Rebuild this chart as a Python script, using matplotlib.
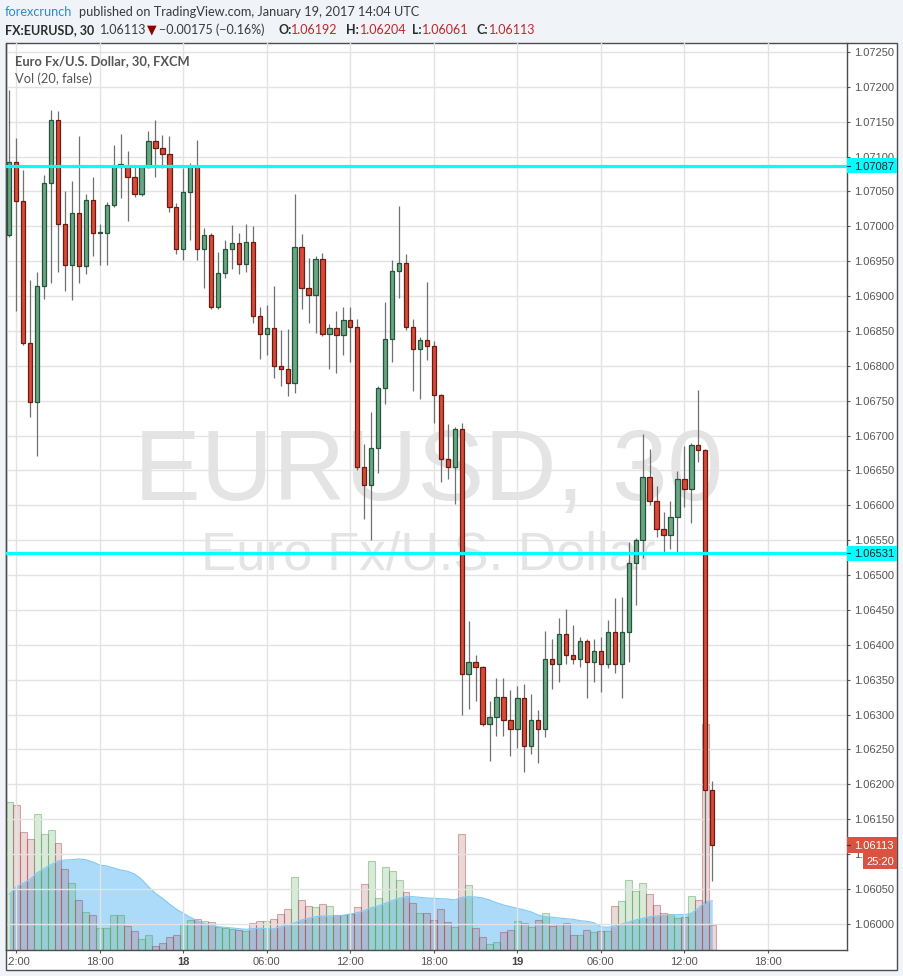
import numpy as np
import pandas as pd
import matplotlib
matplotlib.use('Agg')
import matplotlib.pyplot as plt
from matplotlib.patches import Rectangle
from matplotlib.colors import to_rgba
from matplotlib.ticker import FormatStrFormatter
from matplotlib.transforms import Bbox, TransformedBbox, blended_transform_factory

plt.rcParams['font.family'] = ['Liberation Sans', 'DejaVu Sans']

## EURUSD, 30 min candles (FXCM), first candle 17 Jan 2017 11:30 UTC
start = '2017-01-17 11:30'

open_ = [1.06988, 1.07092, 1.07036, 1.06832, 1.06748, 1.06914, 1.07062, 1.07152, 1.07003, 1.06944,
         1.07019, 1.06943, 1.07037, 1.06991, 1.06991, 1.07030, 1.07085, 1.07087, 1.07070, 1.07046,
         1.07085, 1.07123, 1.07112, 1.07103, 1.07027, 1.06968, 1.07049, 1.07087, 1.06968, 1.06988,
         1.06884, 1.06933, 1.06967, 1.06976, 1.06946, 1.06977, 1.06872, 1.06845, 1.06854, 1.06799,
         1.06796, 1.06776, 1.06970, 1.06911, 1.06901, 1.06953, 1.06845, 1.06854, 1.06844, 1.06865,
         1.06855, 1.06655, 1.06629, 1.06682, 1.06768, 1.06839, 1.06936, 1.06948, 1.06855, 1.06824,
         1.06837, 1.06828, 1.06758, 1.06666, 1.06655, 1.06709, 1.06358, 1.06376, 1.06368, 1.06286,
         1.06296, 1.06325, 1.06292, 1.06279, 1.06323, 1.06255, 1.06292, 1.06279, 1.06379, 1.06373,
         1.06416, 1.06385, 1.06379, 1.06405, 1.06375, 1.06391, 1.06372, 1.06419, 1.06372, 1.06418,
         1.06517, 1.06550, 1.06640, 1.06606, 1.06566, 1.06557, 1.06583, 1.06637, 1.06623, 1.06687,
         1.06679, 1.06192]

high_ = [1.07195, 1.07126, 1.07081, 1.06923, 1.06934, 1.07074, 1.07167, 1.07165, 1.07051, 1.07065,
         1.07129, 1.07046, 1.07071, 1.07003, 1.07035, 1.07117, 1.07132, 1.07108, 1.07085, 1.07088,
         1.07137, 1.07152, 1.07131, 1.07129, 1.07033, 1.07084, 1.07091, 1.07124, 1.06998, 1.06990,
         1.06963, 1.06980, 1.07002, 1.06990, 1.07003, 1.07000, 1.06884, 1.06887, 1.06914, 1.06851,
         1.06853, 1.07046, 1.06989, 1.06955, 1.06958, 1.06961, 1.06860, 1.06879, 1.06884, 1.06884,
         1.06867, 1.06688, 1.06734, 1.06771, 1.06891, 1.06951, 1.07029, 1.06960, 1.06867, 1.06841,
         1.06920, 1.06835, 1.06760, 1.06717, 1.06712, 1.06718, 1.06434, 1.06386, 1.06370, 1.06319,
         1.06352, 1.06352, 1.06335, 1.06341, 1.06344, 1.06329, 1.06307, 1.06420, 1.06408, 1.06438,
         1.06452, 1.06428, 1.06411, 1.06408, 1.06408, 1.06411, 1.06436, 1.06467, 1.06468, 1.06547,
         1.06553, 1.06702, 1.06680, 1.06627, 1.06591, 1.06606, 1.06649, 1.06685, 1.06689, 1.06765,
         1.06680, 1.06204]

low_ = [1.06985, 1.06879, 1.06830, 1.06727, 1.06671, 1.06896, 1.06918, 1.06935, 1.06907, 1.06894,
        1.06918, 1.06932, 1.06958, 1.06945, 1.06944, 1.07028, 1.07041, 1.07007, 1.07042, 1.07044,
        1.07083, 1.07071, 1.07083, 1.07021, 1.06960, 1.06951, 1.06981, 1.06951, 1.06912, 1.06882,
        1.06882, 1.06926, 1.06939, 1.06931, 1.06935, 1.06862, 1.06810, 1.06815, 1.06783, 1.06771,
        1.06756, 1.06761, 1.06882, 1.06862, 1.06847, 1.06843, 1.06796, 1.06790, 1.06816, 1.06806,
        1.06650, 1.06581, 1.06550, 1.06647, 1.06745, 1.06806, 1.06897, 1.06851, 1.06764, 1.06753,
        1.06809, 1.06718, 1.06634, 1.06637, 1.06602, 1.06300, 1.06308, 1.06320, 1.06284, 1.06234,
        1.06269, 1.06269, 1.06241, 1.06252, 1.06218, 1.06244, 1.06230, 1.06268, 1.06336, 1.06346,
        1.06373, 1.06373, 1.06368, 1.06323, 1.06347, 1.06332, 1.06366, 1.06359, 1.06323, 1.06376,
        1.06457, 1.06524, 1.06600, 1.06555, 1.06533, 1.06538, 1.06533, 1.06598, 1.06574, 1.06662,
        1.06030, 1.06061]

close_ = [1.07092, 1.07036, 1.06832, 1.06748, 1.06914, 1.07062, 1.07152, 1.07003, 1.06944, 1.07019,
          1.06943, 1.07037, 1.06991, 1.06991, 1.07030, 1.07087, 1.07090, 1.07070, 1.07046, 1.07085,
          1.07123, 1.07112, 1.07103, 1.07027, 1.06968, 1.07049, 1.07087, 1.06968, 1.06988, 1.06884,
          1.06933, 1.06967, 1.06976, 1.06946, 1.06977, 1.06872, 1.06845, 1.06854, 1.06799, 1.06796,
          1.06776, 1.06970, 1.06911, 1.06901, 1.06953, 1.06845, 1.06854, 1.06844, 1.06865, 1.06855,
          1.06655, 1.06629, 1.06682, 1.06768, 1.06839, 1.06936, 1.06948, 1.06855, 1.06824, 1.06837,
          1.06828, 1.06758, 1.06666, 1.06655, 1.06709, 1.06358, 1.06376, 1.06368, 1.06286, 1.06296,
          1.06325, 1.06292, 1.06279, 1.06323, 1.06255, 1.06292, 1.06279, 1.06379, 1.06373, 1.06416,
          1.06385, 1.06379, 1.06405, 1.06375, 1.06391, 1.06372, 1.06419, 1.06372, 1.06418, 1.06517,
          1.06550, 1.06640, 1.06606, 1.06566, 1.06557, 1.06583, 1.06637, 1.06623, 1.06687, 1.06679,
          1.06192, 1.06113]

volume = [148, 145, 118, 111, 136, 116, 120, 107, 81, 67,
          50, 38, 35, 22, 22, 35, 35, 24, 19, 11,
          15, 4, 7, 13, 15, 26, 30, 31, 29, 28,
          23, 22, 21, 20, 19, 27, 29, 29, 31, 36,
          41, 73, 50, 44, 43, 46, 44, 35, 35, 36,
          43, 66, 89, 52, 83, 79, 70, 58, 47, 37,
          37, 30, 41, 28, 23, 116, 65, 22, 13, 6,
          8, 18, 20, 29, 27, 23, 30, 37, 24, 26,
          27, 15, 15, 20, 18, 19, 19, 44, 49, 70,
          59, 67, 56, 45, 37, 36, 32, 33, 54, 50,
          226, 25]

vol_ma = [55.7, 63.3, 66.7, 70.7, 77.3, 81.3, 85.3, 89, 90, 90.3,
          91, 90.3, 88, 85, 84, 82, 80, 78.7, 76, 70.7,
          63.3, 56.7, 51.7, 46, 40.7, 36.7, 32.7, 29.3, 26.7, 24.7,
          23.3, 22.7, 22, 21.3, 20.7, 21.3, 21.7, 21.3, 21.3, 23.3,
          24.7, 27.3, 30, 31.7, 33.3, 34, 34, 34.3, 34.7, 36,
          37.3, 39.3, 42.3, 44, 46.7, 49.3, 51.7, 53.3, 53.3, 52.7,
          52, 51.7, 51.3, 51, 50, 52.7, 53.3, 53, 52, 50,
          47.3, 45, 43.3, 41.7, 40, 38, 35, 33.3, 32.7, 32,
          31.3, 30.7, 29.3, 28.7, 27.3, 23.3, 22.7, 24, 26, 28,
          30, 31.7, 33.3, 34, 34.7, 34.7, 35.3, 35.3, 36.7, 41.7,
          48.3, 49.3]

# horizontal lines drawn on the chart and the last price tag
levels = [1.07087, 1.06531]
last_price = 1.06113
countdown = '25:20'

o = np.array(open_)
h = np.array(high_)
l = np.array(low_)
c = np.array(close_)
x = np.arange(len(c))
up = c >= o

## figure, 904 x 976 px
W, H = 904, 976
fig = plt.figure(figsize=(W / 100, H / 100), dpi=100)
fig.patch.set_facecolor('#f0f3f7')


def frac(x0, y0, x1, y1):
    # pixel box (origin top left) -> figure rect
    return [x0 / W, 1 - y1 / H, (x1 - x0) / W, (y1 - y0) / H]


fig.patches.append(Rectangle((6 / W, 1 - 970 / H), 891 / W, 927 / H, transform=fig.transFigure,
                             facecolor='white', edgecolor='#4d4d4d', lw=1, zorder=-1))

axv = fig.add_axes(frac(6, 43, 847, 950))
ax = fig.add_axes(frac(6, 43, 847, 950), sharex=axv)
axv.set_zorder(1)
ax.set_zorder(2)
ax.patch.set_visible(False)

## volume pane
green_v = '#4a9a4a'
red_v = '#a04040'
axv.fill_between(x, 0, vol_ma, color='#4fb3f6', alpha=0.47, lw=0)
axv.plot(x, vol_ma, color='#7cc8f8', lw=0.8)
axv.bar(x, volume, width=1.0,
        color=[to_rgba(green_v if u else red_v, 0.2) for u in up],
        edgecolor=[to_rgba(green_v if u else red_v, 0.42) for u in up], lw=0.8)
axv.set_ylim(0, 907)
axv.set_axis_off()

## price pane
ax.set_xlim(-0.47, 120.36)
ax.set_ylim(1.059624, 1.072628)

slots = pd.date_range(start, periods=121, freq='30min')
tick_pos = [i for i, t in enumerate(slots) if t.minute == 0 and t.hour % 6 == 0]
tick_lab = [str(slots[i].day) if slots[i].hour == 0 else slots[i].strftime('%H:%M') for i in tick_pos]
ax.set_xticks(tick_pos)
ax.set_xticklabels([''] * len(tick_pos))

ax.set_yticks(np.arange(1.0600, 1.07251, 0.0005))
ax.yaxis.set_major_formatter(FormatStrFormatter('%.5f'))
ax.yaxis.tick_right()
ax.tick_params(axis='y', direction='out', length=2.2, width=0.8, color='#555555',
               labelsize=8, labelcolor='#555555', pad=2.9)
ax.tick_params(axis='x', direction='out', length=2.2, width=0.8, color='#555555')
ax.set_axisbelow(True)
ax.grid(True, color='#e3e3e3', lw=1.0)
for side in ['left', 'right', 'bottom']:
    ax.spines[side].set_color('#4d4d4d')
    ax.spines[side].set_linewidth(1)
ax.spines['top'].set_visible(False)

# time labels, clipped to the chart box (the first one is cut by the left edge)
clip = TransformedBbox(Bbox.from_extents(7.5 / W, 0, 847 / W, 1), fig.transFigure)
xt = blended_transform_factory(ax.transData, fig.transFigure)
for pos, lab in zip(tick_pos, tick_lab):
    t = fig.text(pos, 1 - 965 / H, lab, transform=xt, ha='center', va='baseline', fontsize=8,
                 color='#444444' if len(lab) == 2 else '#555555',
                 fontweight='bold' if len(lab) == 2 else 'normal', clip_on=True)
    t.set_clip_box(clip)

# watermark
ax.text(0.5023, 0.4961, 'EURUSD, 30', transform=ax.transAxes, ha='center', va='baseline',
        fontsize=72, color='#e4e4e4', zorder=0.1)
ax.text(0.5023, 0.419, 'Euro Fx/U.S. Dollar', transform=ax.transAxes, ha='center', va='baseline',
        fontsize=38, color='#e4e4e4', zorder=0.1)

## candles
ax.vlines(x, l, h, color='#707070', lw=0.9, zorder=3)
ax.bar(x, np.maximum(np.abs(c - o), 0.000012), bottom=np.minimum(o, c), width=0.62,
       color=np.where(up, '#6ba583', '#d64c3a'), edgecolor=np.where(up, '#22553a', '#6b1c12'),
       lw=0.9, zorder=4)

for p in levels:
    ax.axhline(p, color='#00ffff', lw=2.3, zorder=5)

## tags on the price scale
tr = blended_transform_factory(ax.transAxes, ax.transData)
half = 7.6 / 69750
box_w = (897 - 847) / 841
lab_x = (854 - 6) / 841


def price_tag(p, text, face, tcolor):
    ax.add_patch(Rectangle((1.0, p - half), box_w, 2 * half, transform=tr, clip_on=False,
                           facecolor=face, edgecolor='none', zorder=10))
    ax.plot([1.0, 1.0036], [p, p], transform=tr, clip_on=False, color='#333333', lw=0.8, zorder=11)
    ax.text(lab_x, p, text, transform=tr, ha='left', va='center_baseline', fontsize=8,
            color=tcolor, clip_on=False, zorder=11)


for p in levels:
    price_tag(p, '%.5f' % p, '#00ffff', '#222222')
price_tag(last_price, '%.5f' % last_price, '#d9533f', 'white')
ax.add_patch(Rectangle(((863.3 - 6) / 841, last_price - half - 16 / 69750), (896.7 - 863.3) / 841,
                       16 / 69750, transform=tr, clip_on=False, facecolor='#d9533f',
                       edgecolor='none', zorder=10))
ax.text((880 - 6) / 841, last_price - half - 8 / 69750, countdown, transform=tr, ha='center',
        va='center_baseline', fontsize=8, color='white', clip_on=False, zorder=11)

## header and legend text
hdr_font = ['Lato', 'DejaVu Sans']
red_txt = '#c0262c'


def runs(base, parts, size):
    for x0, s, color, weight in parts:
        fig.text(x0 / W, 1 - base / H, s, color=color, fontsize=size, fontweight=weight,
                 family=hdr_font, va='baseline', ha='left')


runs(16, [(5, 'forexcrunch', '#2d8bcb', 'normal'),
          (79, 'published on TradingView.com, January 19, 2017 14:04 UTC', '#3a3a3a', 'normal')], 9.2)
runs(33.7, [(5, 'FX:EURUSD, 30', '#2b2b2b', 'bold'),
            (100, '1.06113', '#3a3a3a', 'normal'),
            (146.5, '\u25bc', '#8f0000', 'normal'),
            (159, '\u22120.00175 (\u22120.16%)', '#3a3a3a', 'normal'),
            (278.6, 'O:', '#2b2b2b', 'bold'), (290.5, '1.06192', red_txt, 'normal'),
            (346.4, 'H:', '#2b2b2b', 'bold'), (359.6, '1.06204', red_txt, 'normal'),
            (412.5, 'L:', '#2b2b2b', 'bold'), (422, '1.06061', red_txt, 'normal'),
            (476.8, 'C:', '#2b2b2b', 'bold'), (488.6, '1.06113', red_txt, 'normal')], 9.0)
runs(65.3, [(15, 'Euro Fx/U.S. Dollar, 30, FXCM', '#555555', 'bold')], 9.3)
runs(82.7, [(15, 'Vol (20, false)', '#555555', 'normal')], 9.3)

fig.savefig('out.png', dpi=100, facecolor=fig.get_facecolor())
